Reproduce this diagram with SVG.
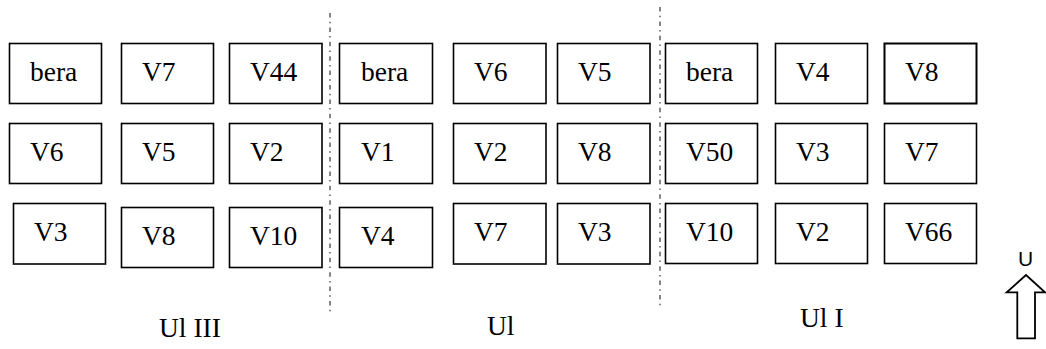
<svg xmlns="http://www.w3.org/2000/svg" width="1046" height="349" viewBox="0 0 1046 349">
<style>
.box rect{fill:#fff;stroke:#000;stroke-width:1.6}
.div{stroke:#444;stroke-width:1.3;stroke-dasharray:4.5 4.2 1.5 4.2;fill:none}
</style>
<rect width="1046" height="349" fill="#fff"/>
<g id="dividers">
<line class="div" x1="330" y1="13" x2="330" y2="313"/>
<line class="div" x1="660" y1="7" x2="660" y2="307"/>
</g>
<g id="nodes" font-family="'Liberation Serif', 'Times New Roman', serif" font-size="27.5" fill="#000">
<g id="n1" class="box"><rect x="9.5" y="43.5" width="92" height="60"/><text x="30" y="80.5">bera</text></g>
<g id="n2" class="box"><rect x="121.5" y="43.5" width="92" height="60"/><text x="142" y="80.5">V7</text></g>
<g id="n3" class="box"><rect x="229.5" y="43.5" width="92.5" height="60"/><text x="250" y="80.5">V44</text></g>
<g id="n4" class="box"><rect x="9.5" y="123.5" width="92" height="60"/><text x="30" y="160.5">V6</text></g>
<g id="n5" class="box"><rect x="121.5" y="123.5" width="92" height="60"/><text x="142" y="160.5">V5</text></g>
<g id="n6" class="box"><rect x="229.5" y="123.5" width="92.5" height="60"/><text x="250" y="160.5">V2</text></g>
<g id="n7" class="box"><rect x="13.5" y="203.5" width="92" height="60.5"/><text x="34" y="241">V3</text></g>
<g id="n8" class="box"><rect x="121.5" y="207.5" width="92" height="60"/><text x="142" y="245">V8</text></g>
<g id="n9" class="box"><rect x="229.5" y="207.5" width="92.5" height="60"/><text x="250" y="245">V10</text></g>
<g id="n10" class="box"><rect x="339.5" y="43.5" width="93" height="60"/><text x="361" y="80.5">bera</text></g>
<g id="n11" class="box"><rect x="453.5" y="43.5" width="92.5" height="60"/><text x="474" y="80.5">V6</text></g>
<g id="n12" class="box"><rect x="557.5" y="43.5" width="92.5" height="60"/><text x="578" y="80.5">V5</text></g>
<g id="n13" class="box"><rect x="339.5" y="123.5" width="93" height="60"/><text x="361" y="160.5">V1</text></g>
<g id="n14" class="box"><rect x="453.5" y="123.5" width="92.5" height="60"/><text x="474" y="160.5">V2</text></g>
<g id="n15" class="box"><rect x="557.5" y="123.5" width="92.5" height="60"/><text x="578" y="160.5">V8</text></g>
<g id="n16" class="box"><rect x="339.5" y="207.5" width="93" height="60"/><text x="361" y="245">V4</text></g>
<g id="n17" class="box"><rect x="453.5" y="203.5" width="92.5" height="60.5"/><text x="474" y="241">V7</text></g>
<g id="n18" class="box"><rect x="557.5" y="203.5" width="92.5" height="60.5"/><text x="578" y="241">V3</text></g>
<g id="n19" class="box"><rect x="665.5" y="43.5" width="92" height="60"/><text x="686" y="80.5">bera</text></g>
<g id="n20" class="box"><rect x="775.5" y="43.5" width="92" height="60"/><text x="796" y="80.5">V4</text></g>
<g id="n21" class="box"><rect x="884.5" y="43.5" width="92" height="60" style="stroke-width:2"/><text x="905" y="80.5">V8</text></g>
<g id="n22" class="box"><rect x="665.5" y="123.5" width="92" height="60"/><text x="686" y="160.5">V50</text></g>
<g id="n23" class="box"><rect x="775.5" y="123.5" width="92" height="60"/><text x="796" y="160.5">V3</text></g>
<g id="n24" class="box"><rect x="884.5" y="123.5" width="92" height="60"/><text x="905" y="160.5">V7</text></g>
<g id="n25" class="box"><rect x="665.5" y="203.5" width="92" height="60"/><text x="686" y="241">V10</text></g>
<g id="n26" class="box"><rect x="775.5" y="203.5" width="92" height="60"/><text x="796" y="241">V2</text></g>
<g id="n27" class="box"><rect x="884.5" y="203.5" width="92" height="60"/><text x="905" y="241">V66</text></g>
</g>
<g id="labels" font-family="'Liberation Serif', 'Times New Roman', serif" font-size="27.5" fill="#000">
<text x="159" y="336.5">Ul III</text>
<text x="487" y="335">Ul</text>
<text x="800" y="326.5">Ul I</text>
</g>
<g id="arrow">
<text x="1025.5" y="266" text-anchor="middle" font-family="'Liberation Sans', Arial, sans-serif" font-size="21" fill="#000">U</text>
<polygon points="1026,275 1045,292.3 1035,292.3 1035,338.3 1017.3,338.3 1017.3,292.3 1006.7,292.3" fill="#fff" stroke="#000" stroke-width="1.8" stroke-linejoin="miter"/>
</g>
</svg>
